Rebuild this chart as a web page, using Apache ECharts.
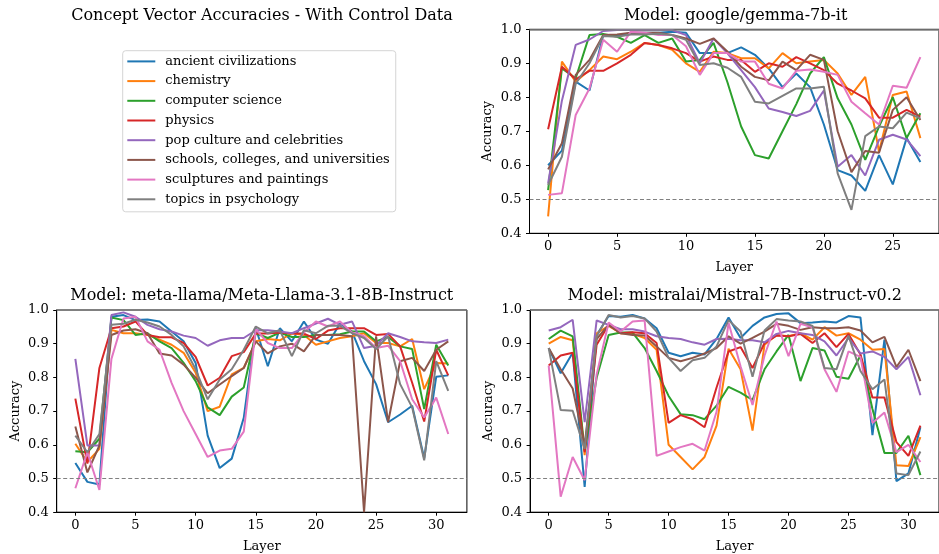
<!DOCTYPE html>
<html>
<head>
<meta charset="utf-8">
<script src="https://cdn.jsdelivr.net/npm/echarts@6/dist/echarts.min.js"></script>
<style>html,body{margin:0;padding:0;background:#fff}#c{width:939px;height:554px}</style>
</head>
<body>
<div id="c"></div>
<script>
const concepts = ["ancient civilizations","chemistry","computer science","physics","pop culture and celebrities","schools, colleges, and universities","sculptures and paintings","topics in psychology"];
const colors = ["#1f77b4","#ff7f0e","#2ca02c","#d62728","#9467bd","#8c564b","#e377c2","#7f7f7f"];
const modelTitles = ["Model: google/gemma-7b-it","Model: meta-llama/Meta-Llama-3.1-8B-Instruct","Model: mistralai/Mistral-7B-Instruct-v0.2"];
const xTicks = [0,5,10,15,20,25,30];
const yTicks = [0.4,0.5,0.6,0.7,0.8,0.9,1.0];

// gemma-7b-it (layers 0-27)
const gemmaAncient = [0.60,0.643,0.846,0.82,0.983,0.98,0.99,0.99,0.99,0.993,0.99,0.93,0.93,0.93,0.947,0.925,0.885,0.83,0.87,0.83,0.72,0.586,0.57,0.525,0.63,0.544,0.68,0.61];
const gemmaChemistry = [0.45,0.905,0.846,0.88,0.92,0.912,0.934,0.96,0.954,0.94,0.90,0.875,0.934,0.93,0.915,0.915,0.885,0.93,0.90,0.905,0.91,0.87,0.807,0.86,0.64,0.807,0.817,0.68];
const gemmaCS = [0.527,0.885,0.856,0.983,0.986,0.978,0.96,0.983,0.96,0.973,0.905,0.91,0.96,0.845,0.714,0.63,0.62,0.70,0.78,0.87,0.918,0.797,0.72,0.616,0.714,0.80,0.68,0.753];
const gemmaPhysics = [0.706,0.89,0.853,0.878,0.878,0.90,0.925,0.96,0.954,0.944,0.93,0.905,0.92,0.91,0.91,0.875,0.90,0.89,0.918,0.90,0.88,0.84,0.82,0.797,0.74,0.74,0.763,0.743];
const gemmaPop = [0.547,0.79,0.954,0.97,0.995,0.998,0.998,0.998,0.998,0.998,0.983,0.90,0.973,0.93,0.88,0.83,0.767,0.757,0.745,0.76,0.82,0.596,0.63,0.57,0.675,0.69,0.676,0.627];
const gemmaSchools = [0.588,0.665,0.866,0.91,0.983,0.985,0.99,0.99,0.99,0.983,0.973,0.957,0.973,0.935,0.89,0.86,0.85,0.905,0.88,0.925,0.91,0.70,0.58,0.642,0.637,0.763,0.80,0.733];
const gemmaSculpt = [0.513,0.518,0.748,0.826,0.969,0.934,0.993,0.99,0.983,0.983,0.95,0.866,0.93,0.93,0.905,0.905,0.84,0.826,0.878,0.882,0.875,0.866,0.787,0.753,0.72,0.834,0.828,0.918];
const gemmaPsych = [0.542,0.625,0.84,0.90,0.98,0.978,0.985,0.985,0.987,0.983,0.969,0.895,0.90,0.887,0.86,0.787,0.782,0.804,0.826,0.826,0.831,0.576,0.469,0.686,0.714,0.709,0.755,0.738];

// Meta-Llama-3.1-8B-Instruct (layers 0-31)
const llamaAncient = [0.546,0.49,0.482,0.98,0.985,0.97,0.972,0.966,0.936,0.907,0.843,0.627,0.531,0.559,0.68,0.946,0.833,0.946,0.907,0.966,0.912,0.90,0.96,0.936,0.848,0.78,0.667,0.69,0.716,0.56,0.802,0.806];
const llamaChemistry = [0.603,0.549,0.588,0.941,0.931,0.931,0.926,0.912,0.897,0.873,0.814,0.70,0.713,0.809,0.828,0.907,0.914,0.91,0.931,0.926,0.897,0.907,0.917,0.922,0.931,0.902,0.902,0.892,0.914,0.765,0.843,0.841];
const llamaCS = [0.581,0.578,0.618,0.978,0.97,0.926,0.931,0.907,0.887,0.843,0.789,0.711,0.688,0.743,0.77,0.931,0.917,0.933,0.92,0.92,0.926,0.926,0.928,0.936,0.936,0.907,0.92,0.892,0.884,0.706,0.897,0.835];
const llamaPhysics = [0.737,0.544,0.828,0.946,0.951,0.966,0.926,0.919,0.919,0.902,0.861,0.776,0.799,0.863,0.875,0.93,0.93,0.933,0.93,0.93,0.914,0.939,0.946,0.946,0.946,0.926,0.929,0.892,0.784,0.669,0.882,0.806];
const llamaPop = [0.855,0.598,0.598,0.985,0.993,0.98,0.956,0.943,0.936,0.924,0.917,0.894,0.91,0.917,0.917,0.94,0.94,0.936,0.931,0.946,0.96,0.974,0.956,0.966,0.887,0.894,0.931,0.92,0.907,0.904,0.902,0.912];
const llamaSchools = [0.654,0.518,0.598,0.926,0.939,0.943,0.931,0.871,0.865,0.838,0.799,0.753,0.779,0.804,0.828,0.907,0.871,0.892,0.90,0.877,0.926,0.926,0.926,0.922,0.40,0.922,0.667,0.848,0.858,0.819,0.882,0.907];
const llamaSculpt = [0.471,0.578,0.466,0.855,0.975,0.98,0.907,0.882,0.784,0.70,0.632,0.564,0.583,0.588,0.639,0.943,0.902,0.887,0.887,0.933,0.966,0.951,0.966,0.933,0.922,0.887,0.894,0.848,0.735,0.681,0.74,0.632];
const llamaPsych = [0.627,0.578,0.632,0.956,0.959,0.971,0.963,0.951,0.926,0.892,0.824,0.735,0.794,0.824,0.882,0.951,0.931,0.94,0.863,0.94,0.931,0.953,0.953,0.931,0.917,0.884,0.922,0.78,0.711,0.554,0.848,0.76];

// Mistral-7B-Instruct-v0.2 (layers 0-31)
const mistralAncient = [0.887,0.812,0.873,0.475,0.926,0.982,0.98,0.985,0.975,0.946,0.873,0.863,0.873,0.868,0.914,0.978,0.917,0.953,0.978,0.988,0.99,0.961,0.963,0.966,0.963,0.982,0.978,0.629,0.912,0.492,0.515,0.652];
const mistralChemistry = [0.90,0.92,0.91,0.569,0.931,0.953,0.931,0.929,0.917,0.882,0.60,0.564,0.527,0.564,0.657,0.885,0.824,0.642,0.897,0.926,0.922,0.931,0.912,0.949,0.924,0.931,0.912,0.882,0.884,0.539,0.537,0.623];
const mistralCS = [0.914,0.939,0.922,0.583,0.799,0.926,0.933,0.933,0.887,0.819,0.745,0.691,0.688,0.676,0.716,0.772,0.755,0.733,0.824,0.877,0.926,0.789,0.887,0.88,0.802,0.796,0.865,0.706,0.576,0.576,0.627,0.51];
const mistralPhysics = [0.835,0.865,0.873,0.578,0.897,0.956,0.931,0.934,0.931,0.902,0.665,0.688,0.676,0.652,0.77,0.877,0.89,0.828,0.902,0.924,0.922,0.929,0.902,0.931,0.89,0.929,0.868,0.74,0.74,0.608,0.567,0.657];
const mistralPop = [0.939,0.949,0.971,0.667,0.969,0.956,0.943,0.943,0.936,0.922,0.917,0.914,0.904,0.897,0.914,0.915,0.91,0.91,0.904,0.929,0.938,0.931,0.926,0.907,0.865,0.917,0.871,0.877,0.861,0.824,0.861,0.747];
const mistralSchools = [0.887,0.824,0.767,0.598,0.914,0.956,0.931,0.926,0.924,0.892,0.858,0.848,0.858,0.871,0.887,0.922,0.90,0.917,0.936,0.959,0.953,0.941,0.949,0.946,0.946,0.949,0.939,0.904,0.92,0.831,0.882,0.789];
const mistralSculpt = [0.835,0.446,0.564,0.495,0.809,0.963,0.936,0.966,0.969,0.567,0.58,0.593,0.603,0.583,0.698,0.962,0.833,0.718,0.865,0.966,0.863,0.959,0.949,0.824,0.757,0.877,0.861,0.665,0.696,0.578,0.60,0.549];
const mistralPsych = [0.887,0.703,0.701,0.588,0.922,0.985,0.978,0.982,0.975,0.936,0.858,0.819,0.851,0.858,0.892,0.97,0.936,0.802,0.939,0.973,0.969,0.966,0.953,0.828,0.824,0.924,0.819,0.765,0.794,0.515,0.51,0.58];

const gemma = [gemmaAncient,gemmaChemistry,gemmaCS,gemmaPhysics,gemmaPop,gemmaSchools,gemmaSculpt,gemmaPsych];
const llama = [llamaAncient,llamaChemistry,llamaCS,llamaPhysics,llamaPop,llamaSchools,llamaSculpt,llamaPsych];
const mistral = [mistralAncient,mistralChemistry,mistralCS,mistralPhysics,mistralPop,mistralSchools,mistralSculpt,mistralPsych];
const models = [gemma, llama, mistral];

const FONT = "DejaVu Serif";
const grids = [
  {left: 529.5, top: 29.3, width: 412.4, height: 204},
  {left: 56.7, top: 310, width: 410.2, height: 204},
  {left: 530.1, top: 310, width: 409.2, height: 204}
];
const titlePos = [[735.7, 7.5], [261.8, 288], [734.7, 288]];

const option = {
  animation: false,
  backgroundColor: "#fff",
  color: colors,
  title: [
    {text: "Concept Vector Accuracies - With Control Data", left: 262, top: 7.5, textAlign: "center", padding: 0,
     textStyle: {fontFamily: FONT, fontSize: 16, fontWeight: "normal", color: "#000"}}
  ].concat(modelTitles.map((t, i) => ({
    text: t, left: titlePos[i][0], top: titlePos[i][1], textAlign: "center", padding: 0,
    textStyle: {fontFamily: FONT, fontSize: 16, fontWeight: "normal", color: "#000"}
  }))),
  legend: {
    data: concepts.map(c => ({name: c, icon: "rect"})),
    orient: "vertical", left: 122.7, top: 50.7,
    itemWidth: 28, itemHeight: 2, itemGap: 3.7,
    padding: [2.7, 6, 4.5, 4.6],
    backgroundColor: "#fff", borderColor: "#d4d4d4", borderWidth: 1, borderRadius: 3,
    textStyle: {fontFamily: FONT, fontSize: 13, color: "#000", lineHeight: 16, padding: [0, 0, 0, 5]},
    selectedMode: false
  },
  grid: grids.map(g => Object.assign({show: true, borderColor: "#000", borderWidth: 1, backgroundColor: "transparent"}, g)),
  xAxis: models.map((m, i) => {
    const n = m[0].length - 1;
    const margin = 0.05 * n;
    const ticks = xTicks.filter(t => t <= n);
    return {
      type: "value", gridIndex: i, min: -margin, max: n + margin,
      name: "Layer", nameLocation: "middle", nameGap: 27.8,
      nameTextStyle: {fontFamily: FONT, fontSize: 13, color: "#000"},
      splitLine: {show: false},
      axisLine: {show: true, onZero: false, lineStyle: {color: "#000", width: 1}},
      axisTick: {show: true, length: 3.5, lineStyle: {color: "#000", width: 1}, customValues: ticks},
      axisLabel: {fontFamily: FONT, fontSize: 13, color: "#000", margin: 7, customValues: ticks, formatter: v => String(v)}
    };
  }),
  yAxis: models.map((m, i) => ({
    type: "value", gridIndex: i, min: 0.4, max: 1.0,
    name: "Accuracy", nameLocation: "middle", nameGap: 35,
    nameTextStyle: {fontFamily: FONT, fontSize: 13, color: "#000"},
    splitLine: {show: false},
    axisLine: {show: true, onZero: false, lineStyle: {color: "#000", width: 1}},
    axisTick: {show: true, length: 3.5, lineStyle: {color: "#000", width: 1}, customValues: yTicks},
    axisLabel: {fontFamily: FONT, fontSize: 13, color: "#000", margin: 8, customValues: yTicks, formatter: v => Number(v).toFixed(1)}
  })),
  series: []
};

models.forEach((m, gi) => {
  option.series.push({
    type: "line", xAxisIndex: gi, yAxisIndex: gi, data: [], silent: true,
    markLine: {
      silent: true, symbol: "none", label: {show: false}, animation: false,
      data: [
        {yAxis: 0.5, lineStyle: {type: [4, 2.5], color: "#808080", width: 1}},
        {yAxis: 1.0, lineStyle: {type: "solid", color: "#808080", width: 1.5}}
      ]
    }
  });
  m.forEach((vals, si) => {
    option.series.push({
      name: concepts[si], type: "line", xAxisIndex: gi, yAxisIndex: gi,
      data: vals.map((v, k) => [k, v]),
      showSymbol: false, symbol: "none", clip: true,
      lineStyle: {width: 2, color: colors[si]}, itemStyle: {color: colors[si]},
      emphasis: {disabled: true}
    });
  });
});

const chart = echarts.init(document.getElementById("c"), null, {renderer: "canvas"});
chart.setOption(option);
</script>
</body>
</html>
